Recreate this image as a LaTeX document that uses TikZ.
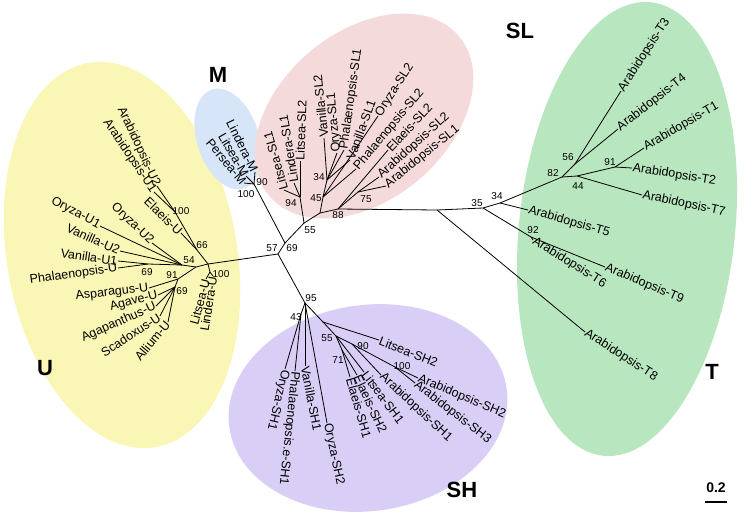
\documentclass[tikz,border=0pt]{standalone}
\usepackage{fontspec}
\setmainfont{Liberation Sans}
\definecolor{cU}{RGB}{250,246,182}
\definecolor{cM}{RGB}{214,230,248}
\definecolor{cSL}{RGB}{244,218,218}
\definecolor{cT}{RGB}{184,230,190}
\definecolor{cSH}{RGB}{216,206,246}
\newcommand\tleaf[6]{\coordinate (t#1) at (#3);\draw[br] (#2) -- (t#1);\node[lf,rotate=#4,anchor=#5] (l#1) at (t#1) {#6};}
\newcommand\blob[6]{\begin{scope}[shift={(#2)},rotate=#3]\fill[#1] (0,0) ellipse [x radius=#4pt, y radius=#5pt];\end{scope}}
\begin{document}
\begin{tikzpicture}[x=1pt,y=-1pt,
  br/.style={line width=0.8pt, black},
  lf/.style={font=\fontsize{12.5}{14}\selectfont, inner sep=0.6pt},
  bs/.style={font=\fontsize{10}{12}\selectfont, inner sep=0pt},
  grp/.style={font=\fontsize{22}{26}\selectfont\bfseries, inner sep=0pt}]
\useasboundingbox (0,0) rectangle (744,512);
% group backgrounds
\blob{cU}{122,255}{-80}{195}{115}{}
\blob{cM}{228,139}{-72}{52}{31}{}
\blob{cSL}{364,116}{40}{124}{84}{}
\blob{cT}{627,229}{84}{228}{108}{}
\blob{cSH}{368,408}{8}{140}{103}{}
% core junctions
\coordinate (C0) at (278,254);
\coordinate (J69) at (285,243);
\coordinate (JM) at (254,184);
\coordinate (J55) at (304,223);
\coordinate (JU) at (208,264);
\coordinate (J95) at (305,303);
\draw[br] (JU) -- (C0) -- (J95);
\draw[br] (C0) -- (J69) -- (J55);
\draw[br] (J69) -- (JM);
% M
\tleaf{LinderaM}{JM}{255,172}{-64}{east}{Lindera-M}
\tleaf{LitseaM}{JM}{246,176}{-60}{east}{Litsea-M}
\tleaf{PerseaM}{JM}{244,183}{-50}{east}{Persea-M}
% SL
\coordinate (J94) at (300,197);
\coordinate (X) at (320,213);
\coordinate (J45) at (323,197);
\coordinate (J34) at (327,180);
\coordinate (J88) at (338,209);
\coordinate (J75) at (358,192);
\draw[br] (J55) -- (J94);
\draw[br] (J55) -- (X) -- (J45) -- (J34);
\draw[br] (X) -- (J88) -- (J75);
\tleaf{LitseaSLa}{J94}{284,190}{106}{west}{Litsea-SL1}
\tleaf{LinderaSLa}{J94}{294,183}{99}{west}{Lindera-SL1}
\tleaf{LitseaSLb}{J94}{300,161}{88}{west}{Litsea-SL2}
\tleaf{VanillaSLb}{J34}{324,138}{96}{west}{Vanilla-SL2}
\tleaf{OryzaSLa}{J34}{337,153}{95}{west}{Oryza-SL1}
\tleaf{PhalSLa}{J34}{344,150}{82}{west}{Phalaenopsis-SL1}
\tleaf{VanillaSLa}{J34}{350,160}{70}{west}{Vanilla-SL1}
\tleaf{OryzaSLb}{J45}{378,116}{57}{west}{Oryza-SL2}
\tleaf{PhalSLb}{J45}{356,169}{50}{west}{Phalaenopsis-SL2}
\tleaf{ElaeisSLb}{J88}{388,150}{47}{west}{Elaeis-SL2}
\tleaf{ArabSLb}{J75}{379,177}{42}{west}{Arabidopsis-SL2}
\tleaf{ArabSLa}{J75}{386,186}{39}{west}{Arabidopsis-SL1}
% T
\coordinate (JT8) at (437,210);
\coordinate (J35) at (483,208);
\coordinate (J34T) at (500,203);
\coordinate (J82) at (562,177);
\coordinate (J56) at (575,164);
\coordinate (J44) at (577,176);
\coordinate (J91) at (615,167);
\coordinate (J92) at (531,237);
\draw[br] (J88) -- (JT8) -- (J35) -- (J34T) -- (J82) -- (J56);
\draw[br] (J82) -- (J44) -- (J91);
\draw[br] (J35) -- (J92);
\tleaf{T3}{J56}{621,91}{57}{west}{Arabidopsis-T3}
\tleaf{T4}{J56}{618,129}{38}{west}{Arabidopsis-T4}
\tleaf{T1}{J91}{644,148}{30}{west}{Arabidopsis-T1}
\tleaf{T2}{J91}{632,168}{-9}{west}{Arabidopsis-T2}
\tleaf{T7}{J44}{642,195}{-12}{west}{Arabidopsis-T7}
\tleaf{T5}{J34T}{528,210}{-16}{west}{Arabidopsis-T5}
\tleaf{T6}{J92}{533,240}{-32}{west}{Arabidopsis-T6}
\tleaf{T9}{J92}{605,267}{-23}{west}{Arabidopsis-T9}
\tleaf{T8}{JT8}{585,332}{-33}{west}{Arabidopsis-T8}
% U
\coordinate (J100U) at (210,272);
\coordinate (J66) at (197,250);
\coordinate (J100A) at (175,212);
\coordinate (Jm) at (196,267);
\coordinate (J54) at (182,265);
\coordinate (J69U) at (148,264);
\coordinate (J91U) at (178,279);
\coordinate (J69A) at (175,287);
\draw[br] (JU) -- (J100U);
\draw[br] (JU) -- (J66) -- (J100A);
\draw[br] (JU) -- (Jm) -- (J54) -- (J69U);
\draw[br] (Jm) -- (J91U) -- (J69A);
\tleaf{LitseaU}{J100U}{206,279}{75}{east}{Litsea-U}
\tleaf{LinderaU}{J100U}{213,276}{81}{east}{Lindera-U}
\tleaf{ArabUb}{J100A}{157,186}{-65}{east}{Arabidopsis-U2}
\tleaf{ArabUa}{J100A}{154,192}{-56}{east}{Arabidopsis-U1}
\tleaf{ElaeisU}{J66}{181,233}{-44}{east}{Elaeis-U}
\tleaf{OryzaUa}{J54}{100,226}{-28}{east}{Oryza-U1}
\tleaf{OryzaUb}{J54}{152,243}{-44}{east}{Oryza-U2}
\tleaf{VanillaUb}{J54}{120,251}{-24}{east}{Vanilla-U2}
\tleaf{VanillaUa}{J69U}{118,261}{-8}{east}{Vanilla-U1}
\tleaf{PhalU}{J69U}{118,268}{8}{east}{Phalaenopsis-U}
\tleaf{AsparU}{J91U}{149,288}{7}{east}{Asparagus-U}
\tleaf{AgaveU}{J69A}{158,295}{15}{east}{Agave-U}
\tleaf{AgapU}{J69A}{156,306}{24}{east}{Agapanthus-U}
\tleaf{ScadU}{J69A}{160,316}{33}{east}{Scadoxus-U}
\tleaf{AlliumU}{J69A}{168,322}{50}{east}{Allium-U}
% SH
\coordinate (J43) at (301,314);
\coordinate (Jx) at (323,322);
\coordinate (J55S) at (336,336);
\coordinate (J71) at (342,350);
\coordinate (J90S) at (352,344);
\coordinate (J100S) at (395,367);
\draw[br] (J95) -- (J43);
\draw[br] (J95) -- (Jx) -- (J55S) -- (J71);
\draw[br] (J55S) -- (J90S) -- (J100S);
\tleaf{OryzaSHa}{J43}{285,369}{-103}{west}{Oryza-SH1}
\tleaf{PhalSH}{J43}{295,371}{-96}{west}{Phalaenopsis.e-SH1}
\tleaf{VanillaSH}{J95}{305,366}{-79}{west}{Vanilla-SH1}
\tleaf{OryzaSHb}{J95}{327,423}{-78}{west}{Oryza-SH2}
\tleaf{LitseaSHb}{Jx}{379,340}{-21.5}{west}{Litsea-SH2}
\tleaf{ElaeisSHa}{J71}{350,377}{-74}{west}{Elaeis-SH1}
\tleaf{ElaeisSHb}{J71}{357,375}{-65}{west}{Elaeis-SH2}
\tleaf{LitseaSHa}{J55S}{364,372}{-53}{west}{Litsea-SH1}
\tleaf{ArabSHa}{J90S}{381,375}{-43}{west}{Arabidopsis-SH1}
\tleaf{ArabSHb}{J100S}{418,378}{-23}{west}{Arabidopsis-SH2}
\tleaf{ArabSHc}{J100S}{415,383}{-38}{west}{Arabidopsis-SH3}
% bootstrap values
\node[bs] (b57) at (272,248) {57};
\node[bs] (b69) at (292,248) {69};
\node[bs] (b55) at (310,230) {55};
\node[bs] (b94) at (291,203) {94};
\node[bs] (b45) at (316,198) {45};
\node[bs] (b34) at (319,177) {34};
\node[bs] (b88) at (338,215) {88};
\node[bs] (b75) at (366,199) {75};
\node[bs] (b90M) at (262,182) {90};
\node[bs] (b100M) at (246,194) {100};
\node[bs] (b35) at (477,203) {35};
\node[bs] (b34T) at (497,196) {34};
\node[bs] (b82) at (553,173) {82};
\node[bs] (b56) at (568,157) {56};
\node[bs] (b91T) at (610,162) {91};
\node[bs] (b44) at (578,186) {44};
\node[bs] (b92) at (533,230) {92};
\node[bs] (b100A) at (181,211) {100};
\node[bs] (b66) at (202,245) {66};
\node[bs] (b54) at (189,260) {54};
\node[bs] (b69U) at (147,272) {69};
\node[bs] (b91U) at (172,275) {91};
\node[bs] (b69A) at (182,291) {69};
\node[bs] (b100U) at (221,274) {100};
\node[bs] (b95) at (311,298) {95};
\node[bs] (b43) at (296,317) {43};
\node[bs] (b55S) at (327,338) {55};
\node[bs] (b71) at (338,360) {71};
\node[bs] (b90S) at (363,346) {90};
\node[bs] (b100S) at (402,366) {100};
% group labels
\node[grp] (gM) at (218,75) {M};
\node[grp] (gSL) at (520,31) {SL};
\node[grp] (gU) at (45,368) {U};
\node[grp] (gT) at (712,372) {T};
\node[grp] (gSH) at (462,490) {SH};
% scale bar
\node[font=\fontsize{14}{16}\selectfont\bfseries, inner sep=0pt] (scale) at (716,488) {0.2};
\coordinate (sbL) at (705,502);
\coordinate (sbR) at (727,502);
\draw[line width=1.3pt] (sbL) -- (sbR);
\end{tikzpicture}
\end{document}
